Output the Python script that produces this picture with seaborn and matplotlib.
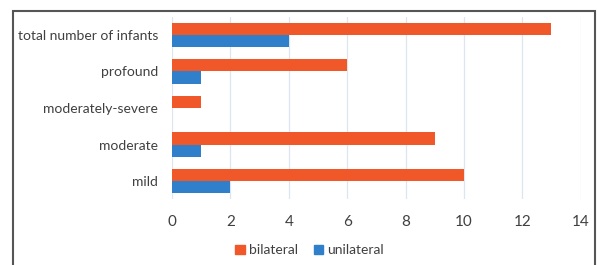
import numpy as np
import pandas as pd
import matplotlib
matplotlib.use("Agg")
import matplotlib.pyplot as plt
import seaborn as sns
from matplotlib.patches import Rectangle

# data
categories = ["total number of infants", "profound", "moderately-severe", "moderate", "mild"]
bilateral = [13, 6, 1, 9, 10]
unilateral = [4, 1, 0, 1, 2]
x_ticks = [0, 2, 4, 6, 8, 10, 12, 14]

df = pd.DataFrame({
    "category": categories * 2,
    "count": bilateral + unilateral,
    "side": ["bilateral"] * len(categories) + ["unilateral"] * len(categories),
})

sns.set_style("white")
plt.rcParams["font.family"] = ["Lato", "DejaVu Sans"]
text_color = "#404040"

fig = plt.figure(figsize=(5.98, 2.65), dpi=100)
ax = fig.add_axes([0.2876, 0.248, 0.971 - 0.2876, 0.937 - 0.248])

sns.barplot(
    data=df, y="category", x="count", hue="side", order=categories,
    palette={"bilateral": "#F0582A", "unilateral": "#2F7FCB"},
    orient="h", width=0.66, ax=ax, legend=False, saturation=1, linewidth=0,
)

ax.set_xlim(0, 14)
ax.set_ylim(4.5, -0.5)
ax.set_xticks(x_ticks)
ax.set_xticklabels([str(t) for t in x_ticks], fontsize=11, color=text_color)
ax.tick_params(axis="y", labelsize=10, labelcolor=text_color, length=0, pad=10)
ax.tick_params(axis="x", length=0, pad=11)
ax.xaxis.grid(True, color="#dde6f0", linewidth=0.9)
ax.set_axisbelow(True)
ax.set_xlabel("")
ax.set_ylabel("")
for s in ax.spines.values():
    s.set_visible(False)

# legend
handles = [Rectangle((0, 0), 1, 1, color="#F0582A"), Rectangle((0, 0), 1, 1, color="#2F7FCB")]
fig.legend(handles, ["bilateral", "unilateral"], loc="center", bbox_to_anchor=(0.518, 0.055),
           ncol=2, frameon=False, fontsize=10, handlelength=0.7, handleheight=0.7,
           handletextpad=0.3, columnspacing=1.1, labelcolor=text_color)

# outer frame
fig.patches.append(Rectangle((13 / 598, -0.05), 582 / 598, 0.05 + 1 - 11 / 265, transform=fig.transFigure,
                             fill=False, edgecolor="#555555", linewidth=1.5))

fig.savefig("out.png", dpi=100)
